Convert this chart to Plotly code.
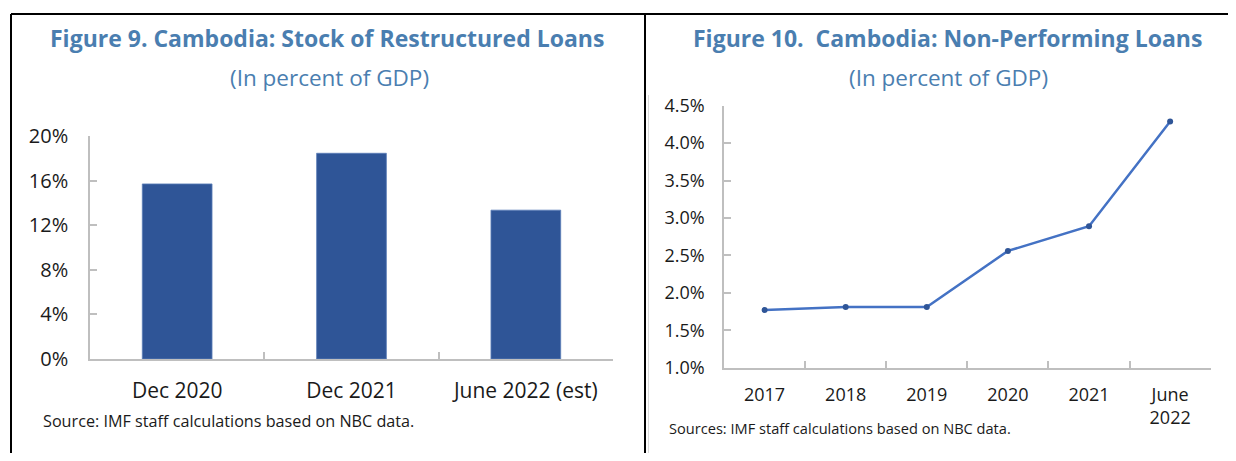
import plotly.graph_objects as go

# page keeps an 8px body margin, so the figure is drawn 16px smaller
PAGE_W, PAGE_H = 1236, 461
OFF = 8
W, H = PAGE_W - 2 * OFF, PAGE_H - 2 * OFF

# Figure 9: stock of restructured loans (percent of GDP)
restr_periods = ["Dec 2020", "Dec 2021", "June 2022 (est)"]
restr_share = [15.7, 18.45, 13.35]

# Figure 10: non-performing loans (percent of GDP)
npl_periods = ["2017", "2018", "2019", "2020", "2021", "June<br>2022"]
npl_share = [1.77, 1.81, 1.81, 2.56, 2.89, 4.29]

left_ticks = [0, 4, 8, 12, 16, 20]
left_labels = ["0%", "4%", "8%", "12%", "16%", "20%"]
right_ticks = [1.0, 1.5, 2.0, 2.5, 3.0, 3.5, 4.0, 4.5]
right_labels = ["1.0%", "1.5%", "2.0%", "2.5%", "3.0%", "3.5%", "4.0%", "4.5%"]

FONT = "Open Sans"
TITLE_COLOR = "#4A7EB0"
AXIS_COLOR = "#BFBFBF"
TEXT = "#1A1A1A"


def fx(p):
    # screen pixel -> paper x
    return (p - OFF) / W


def fy(p):
    # screen pixel -> paper y
    return 1 - (p - OFF) / H


fig = go.Figure()

fig.add_trace(go.Bar(
    x=restr_periods, y=restr_share,
    marker=dict(color="#2F5597", line=dict(color="#5B7DB8", width=0.8)),
    xaxis="x", yaxis="y", showlegend=False,
))

fig.add_trace(go.Scatter(
    x=npl_periods, y=npl_share, mode="lines+markers",
    line=dict(color="#4472C4", width=2.5),
    marker=dict(color="#2F5597", size=6),
    xaxis="x2", yaxis="y2", showlegend=False,
))

axis_common = dict(
    showline=True, linecolor=AXIS_COLOR, linewidth=1.5,
    showgrid=False, zeroline=False, automargin=False,
    ticks="inside", tickcolor=AXIS_COLOR, ticklen=7, tickwidth=1.5,
)

fig.update_layout(
    width=W, height=H,
    margin=dict(l=0, r=0, t=0, b=0, autoexpand=False),
    paper_bgcolor="white", plot_bgcolor="white",
    bargap=0.6,
    font=dict(family=FONT, color=TEXT),
    xaxis=dict(
        domain=[fx(90), fx(613)], anchor="y", type="category",
        range=[-0.5, len(restr_periods) - 0.5],
        tickson="boundaries", tickfont=dict(size=21, color=TEXT),
        ticklabelstandoff=12, **axis_common,
    ),
    yaxis=dict(
        domain=[fy(359), fy(136)], anchor="x", range=[0, 20],
        tickmode="array", tickvals=left_ticks, ticktext=left_labels,
        tickfont=dict(size=20, color=TEXT),
        ticklabelstandoff=16, **axis_common,
    ),
    xaxis2=dict(
        domain=[fx(724), fx(1210.7)], anchor="y2", type="category",
        range=[-0.5, len(npl_periods) - 0.5],
        tickson="boundaries", tickfont=dict(size=18, color=TEXT),
        ticklabelstandoff=10, **axis_common,
    ),
    yaxis2=dict(
        domain=[fy(367.7), fy(105.7)], anchor="x2", range=[1.0, 4.5],
        tickmode="array", tickvals=right_ticks, ticktext=right_labels,
        tickfont=dict(size=18, color=TEXT),
        ticklabelstandoff=14, **axis_common,
    ),
)

# titles, subtitles and sources
notes = [
    (327, 38, "<b>Figure 9. Cambodia: Stock of Restructured Loans</b>", 23, TITLE_COLOR, "center"),
    (329, 78, "(In percent of GDP)", 22.5, TITLE_COLOR, "center"),
    (947, 38, "<b>Figure 10.  Cambodia: Non-Performing Loans</b>", 23, TITLE_COLOR, "center"),
    (948, 78, "(In percent of GDP)", 22.5, TITLE_COLOR, "center"),
    (41, 421, "Source: IMF staff calculations based on NBC data.", 16.2, TEXT, "left"),
    (667, 428, "Sources: IMF staff calculations based on NBC data.", 14.6, TEXT, "left"),
]
for x, y, text, size, color, anchor in notes:
    fig.add_annotation(
        x=fx(x), y=fy(y), xref="paper", yref="paper", text=text,
        showarrow=False, xanchor=anchor, yanchor="middle",
        font=dict(family=FONT, size=size, color=color),
    )

# panel borders
border = dict(color="black", width=2)
fig.add_shape(type="line", xref="paper", yref="paper",
              x0=fx(11), x1=1.02, y0=fy(14), y1=fy(14), line=border)
fig.add_shape(type="line", xref="paper", yref="paper",
              x0=fx(11), x1=fx(11), y0=fy(14), y1=-0.05, line=border)
fig.add_shape(type="line", xref="paper", yref="paper",
              x0=fx(645), x1=fx(645), y0=fy(14), y1=-0.05, line=border)
fig.add_shape(type="line", xref="paper", yref="paper",
              x0=fx(648.5), x1=fx(648.5), y0=fy(95), y1=-0.05,
              line=dict(color="#D9D9D9", width=1))

fig.write_html("out.html")
